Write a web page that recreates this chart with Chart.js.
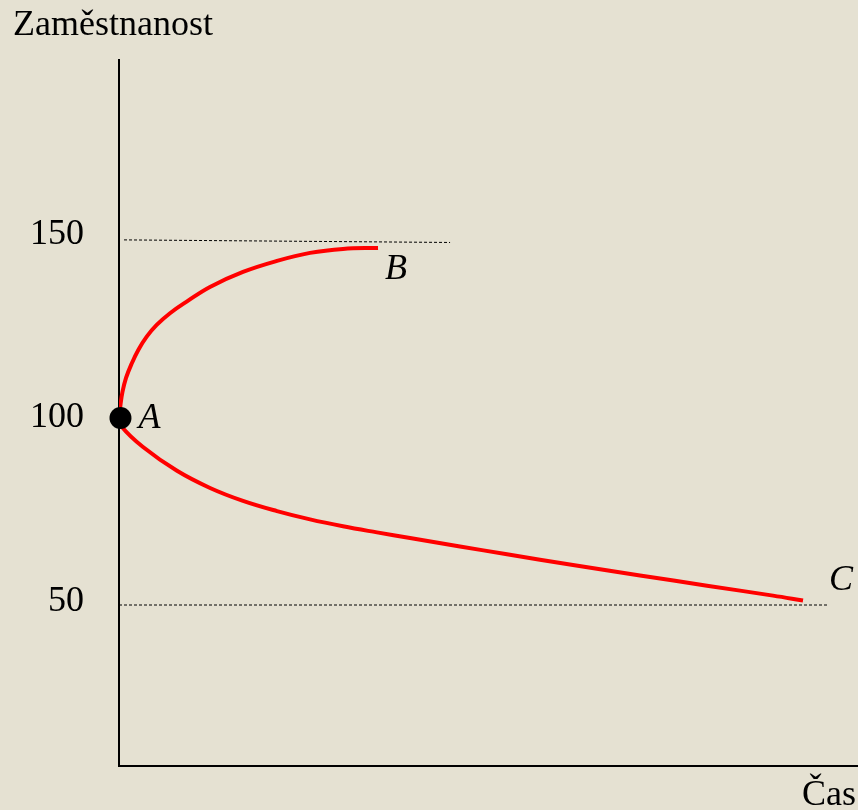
<!DOCTYPE html>
<html>
<head>
<meta charset="utf-8">
<script src="https://cdn.jsdelivr.net/npm/chart.js@4"></script>
<style>
  body { margin: 0; background: #e5e1d2; }
  #wrap { width: 858px; height: 810px; }
</style>
</head>
<body>
<div id="wrap"><canvas id="chart" width="858" height="810"></canvas></div>
<script>
// values (x = time, 0..100; y = employment)
const yTicks = [50, 100, 150];

const pathBx = [0, 0.2, 0.47, 0.95, 1.69, 2.61, 3.75, 5.1, 6.9, 9.16, 12.31, 16.78, 21.38, 25.85, 30.31, 35.05];
const pathBy = [100, 103.54, 107.08, 110.9, 114.71, 118.53, 122.15, 125.34, 128.53, 131.69, 135.69, 139.78, 142.78, 144.96, 146.05, 146.32];

const pathCx = [0, 0.37, 3.25, 7.85, 12.32, 16.78, 21.38, 25.85, 30.31, 34.91, 39.38, 46.14, 52.5, 61.43, 70.5, 79.57, 88.5, 92.56];
const pathCy = [100, 97.63, 92.1, 85.61, 80.93, 77.41, 74.63, 72.37, 70.49, 68.83, 67.3, 65.01, 62.86, 59.97, 57.11, 54.31, 51.61, 50.27];

const topLineX = [0.68, 44.8];
const topLineY = [148.5, 147.8];
const bottomLineX = [0, 95.9];
const bottomLineY = [49.05, 49.05];

const pointA = { x: 0.2, y: 100 };

const toPoints = (xs, ys) => xs.map((x, i) => ({ x: x, y: ys[i] }));

const serif = "'Liberation Serif', 'Times New Roman', serif";

// text labels drawn on top of the chart
const labelsPlugin = {
  id: "labels",
  afterDraw(chart) {
    const ctx = chart.ctx;
    const xs = chart.scales.x;
    const ys = chart.scales.y;
    ctx.save();
    ctx.fillStyle = "#000";
    ctx.textBaseline = "alphabetic";
    ctx.textAlign = "left";

    ctx.font = "36px " + serif;
    ctx.fillText("Zaměstnanost", 13, 35);
    ctx.textAlign = "right";
    ctx.fillText("Čas", 856, 805);

    ctx.textAlign = "left";
    ctx.font = "italic 36px " + serif;
    const endB = pathBx.length - 1;
    const endC = pathCx.length - 1;
    ctx.fillText("A", xs.getPixelForValue(pointA.x) + 18, ys.getPixelForValue(pointA.y) + 10);
    ctx.fillText("B", xs.getPixelForValue(pathBx[endB]) + 7, ys.getPixelForValue(pathBy[endB]) + 31);
    ctx.fillText("C", xs.getPixelForValue(pathCx[endC]) + 26, ys.getPixelForValue(pathCy[endC]) - 11);
    ctx.restore();
  },
};

const dashed = {
  borderColor: "#000",
  borderWidth: 1,
  borderDash: [3, 2],
  pointRadius: 0,
  showLine: true,
};

const red = {
  borderColor: "#ff0000",
  borderWidth: 4,
  pointRadius: 0,
  showLine: true,
  tension: 0.4,
};

new Chart(document.getElementById("chart"), {
  type: "scatter",
  data: {
    datasets: [
      {
        data: [pointA],
        pointRadius: 11,
        pointBackgroundColor: "#000",
        pointBorderWidth: 0,
        clip: false,
      },
      Object.assign({ data: toPoints(pathBx, pathBy) }, red),
      Object.assign({ data: toPoints(pathCx, pathCy) }, red),
      Object.assign({ data: toPoints(topLineX, topLineY) }, dashed),
      Object.assign({ data: toPoints(bottomLineX, bottomLineY) }, dashed),
    ],
  },
  options: {
    responsive: false,
    animation: false,
    layout: { autoPadding: false, padding: { top: 60, left: 0, right: 0, bottom: 0 } },
    plugins: {
      legend: { display: false },
      tooltip: { enabled: false },
    },
    scales: {
      x: {
        type: "linear",
        min: 0,
        max: 100,
        grid: { display: false, drawTicks: false },
        border: { display: true, color: "#000", width: 2 },
        ticks: { display: false },
        afterFit: (scale) => {
          scale.height = 44;
        },
      },
      y: {
        type: "linear",
        min: 5.2,
        max: 197.5,
        grid: { display: false, drawTicks: false },
        border: { display: true, color: "#000", width: 2 },
        ticks: {
          color: "#000",
          padding: 35,
          font: { family: serif, size: 36 },
        },
        afterBuildTicks: (scale) => {
          scale.ticks = yTicks.map((v) => ({ value: v }));
        },
        afterFit: (scale) => {
          scale.width = 119;
          // labels sit well inside the axis, no extra room needed
          scale.paddingTop = 0;
          scale.paddingBottom = 0;
        },
      },
    },
  },
  plugins: [labelsPlugin],
});
</script>
</body>
</html>
